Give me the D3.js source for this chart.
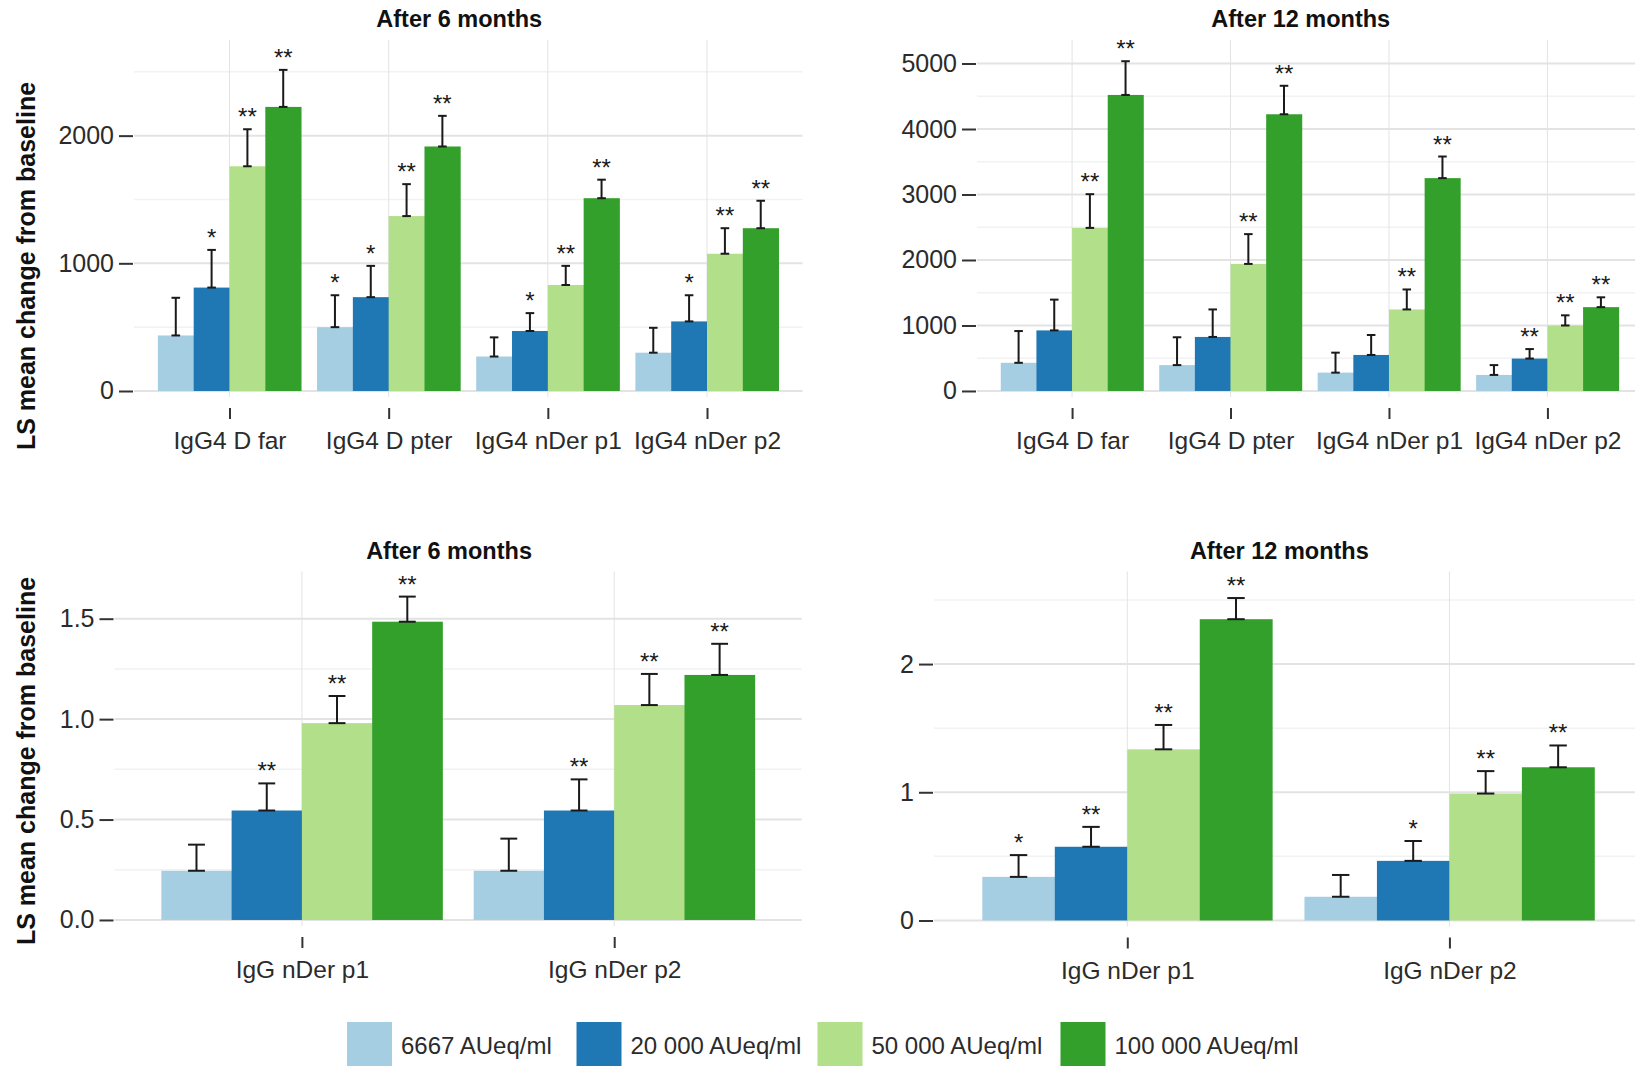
<!DOCTYPE html>
<html>
<head>
<meta charset="utf-8">
<script src="https://cdn.jsdelivr.net/npm/d3@7"></script>
<style>
  html, body { margin: 0; padding: 0; background: #fff; }
  svg { display: block; font-family: "Liberation Sans", Arial, Helvetica, sans-serif; }
</style>
</head>
<body>
<svg id="chart" width="1635" height="1066"></svg>
<script>
// ---------------- DATA ----------------
const doses = ["6667 AUeq/ml", "20 000 AUeq/ml", "50 000 AUeq/ml", "100 000 AUeq/ml"];
const doseColors = ["#a6cee3", "#1f78b4", "#b2df8a", "#33a02c"];

const igg4Categories = ["IgG4 D far", "IgG4 D pter", "IgG4 nDer p1", "IgG4 nDer p2"];
const iggCategories = ["IgG nDer p1", "IgG nDer p2"];

// IgG4, after 6 months: LS mean change and upper error limit, per category x dose
const igg4Month6Mean = [
  [435, 810, 1760, 2225],
  [500, 735, 1370, 1915],
  [270, 470, 830, 1510],
  [300, 545, 1075, 1275]
];
const igg4Month6Upper = [
  [730, 1105, 2050, 2515],
  [750, 980, 1620, 2155],
  [420, 610, 980, 1655],
  [495, 750, 1275, 1490]
];
const igg4Month6Sig = [
  ["", "*", "**", "**"],
  ["*", "*", "**", "**"],
  ["", "*", "**", "**"],
  ["", "*", "**", "**"]
];

// IgG4, after 12 months
const igg4Month12Mean = [
  [430, 925, 2490, 4520],
  [395, 825, 1940, 4225],
  [280, 550, 1245, 3250],
  [245, 495, 1000, 1280]
];
const igg4Month12Upper = [
  [915, 1395, 3005, 5035],
  [820, 1245, 2395, 4660],
  [585, 855, 1550, 3580],
  [395, 640, 1155, 1430]
];
const igg4Month12Sig = [
  ["", "", "**", "**"],
  ["", "", "**", "**"],
  ["", "", "**", "**"],
  ["", "**", "**", "**"]
];

// IgG, after 6 months
const iggMonth6Mean = [
  [0.245, 0.545, 0.98, 1.485],
  [0.245, 0.545, 1.07, 1.22]
];
const iggMonth6Upper = [
  [0.375, 0.68, 1.115, 1.61],
  [0.405, 0.70, 1.225, 1.375]
];
const iggMonth6Sig = [
  ["", "**", "**", "**"],
  ["", "**", "**", "**"]
];

// IgG, after 12 months
const iggMonth12Mean = [
  [0.34, 0.575, 1.335, 2.35],
  [0.185, 0.465, 0.99, 1.195]
];
const iggMonth12Upper = [
  [0.51, 0.73, 1.525, 2.515],
  [0.355, 0.62, 1.165, 1.365]
];
const iggMonth12Sig = [
  ["*", "**", "**", "**"],
  ["", "*", "**", "**"]
];

// tick values
const igg4Month6Ticks = [0, 1000, 2000];
const igg4Month6Minor = [500, 1500, 2500];
const igg4Month12Ticks = [0, 1000, 2000, 3000, 4000, 5000];
const igg4Month12Minor = [500, 1500, 2500, 3500, 4500];
const iggMonth6Ticks = [0, 0.5, 1.0, 1.5];
const iggMonth6TickLabels = ["0.0", "0.5", "1.0", "1.5"];
const iggMonth6Minor = [0.25, 0.75, 1.25];
const iggMonth12Ticks = [0, 1, 2];
const iggMonth12Minor = [0.5, 1.5, 2.5];

const titles = ["After 6 months", "After 12 months"];
const yAxisTitle = "LS mean change from baseline";

// ---------------- DRAWING ----------------
const svg = d3.select("#chart");
const TXT = "#2b2b2b";

function drawPanel(cfg) {
  const g = svg.append("g");
  const x = d3.scalePoint().domain(cfg.categories).range([cfg.x0, cfg.x1]).padding(0.6);
  const step = x.step();
  const xd = d3.scaleBand().domain(doses).range([-0.45 * step, 0.45 * step]).padding(0);
  const y = d3.scaleLinear().domain(cfg.domain).range([cfg.y1, cfg.y0]);

  // minor gridlines
  g.append("g").selectAll("line").data(cfg.minor.filter(v => v >= cfg.domain[0] && v <= cfg.domain[1]))
    .join("line")
    .attr("x1", cfg.x0).attr("x2", cfg.x1)
    .attr("y1", d => y(d)).attr("y2", d => y(d))
    .attr("stroke", "#f2f2f2").attr("stroke-width", 1.5);
  // major gridlines
  g.append("g").selectAll("line").data(cfg.ticks)
    .join("line")
    .attr("x1", cfg.x0).attr("x2", cfg.x1)
    .attr("y1", d => y(d)).attr("y2", d => y(d))
    .attr("stroke", "#e3e3e3").attr("stroke-width", 2);
  // vertical gridlines
  g.append("g").selectAll("line").data(cfg.categories)
    .join("line")
    .attr("x1", d => x(d)).attr("x2", d => x(d))
    .attr("y1", cfg.y0).attr("y2", cfg.y1)
    .attr("stroke", "#e3e3e3").attr("stroke-width", 1);

  // flatten data
  const rows = [];
  cfg.categories.forEach((c, i) => {
    doses.forEach((d, j) => {
      rows.push({ cat: c, dose: d, j, mean: cfg.mean[i][j], upper: cfg.upper[i][j], sig: cfg.sig[i][j] });
    });
  });
  const bw = xd.bandwidth();

  // bars
  g.append("g").selectAll("rect").data(rows).join("rect")
    .attr("x", d => x(d.cat) + xd(d.dose))
    .attr("width", bw + 0.4)
    .attr("y", d => y(d.mean))
    .attr("height", d => y(0) - y(d.mean))
    .attr("fill", d => doseColors[d.j]);

  // error bars
  const cap = bw * 0.24;
  const eb = g.append("g").attr("stroke", "#1a1a1a").attr("stroke-width", 2);
  rows.forEach(d => {
    const cx = x(d.cat) + xd(d.dose) + bw / 2;
    eb.append("line").attr("x1", cx).attr("x2", cx).attr("y1", y(d.mean)).attr("y2", y(d.upper));
    eb.append("line").attr("x1", cx - cap / 2).attr("x2", cx + cap / 2).attr("y1", y(d.upper)).attr("y2", y(d.upper));
    eb.append("line").attr("x1", cx - cap / 2).attr("x2", cx + cap / 2).attr("y1", y(d.mean)).attr("y2", y(d.mean));
  });

  // significance stars
  g.append("g").selectAll("text").data(rows.filter(d => d.sig)).join("text")
    .attr("x", d => x(d.cat) + xd(d.dose) + bw / 2)
    .attr("y", d => y(d.upper) - 4)
    .attr("text-anchor", "middle")
    .attr("font-size", 24)
    .attr("fill", "#1a1a1a")
    .text(d => d.sig);

  // y axis
  const ya = g.append("g").attr("transform", `translate(${cfg.x0 - 1},0)`)
    .call(d3.axisLeft(y).tickValues(cfg.ticks).tickSize(14).tickPadding(5)
      .tickFormat((d, i) => cfg.tickLabels ? cfg.tickLabels[i] : d3.format("d")(d)));
  ya.select(".domain").remove();
  ya.selectAll(".tick line").attr("stroke", "#333").attr("stroke-width", 2);
  ya.selectAll(".tick text").attr("font-size", 25).attr("fill", TXT)
    .attr("font-family", "'Liberation Sans', Arial, sans-serif");

  // x axis (offset below the panel)
  const xa = g.append("g").attr("transform", `translate(0,${cfg.y1 + 11})`)
    .call(d3.axisBottom(x).tickSize(11).tickPadding(13));
  xa.select(".domain").remove();
  xa.selectAll(".tick line").attr("stroke", "#333").attr("stroke-width", 2);
  xa.selectAll(".tick text").attr("font-size", 24.5).attr("fill", TXT)
    .attr("font-family", "'Liberation Sans', Arial, sans-serif");

  // title
  g.append("text")
    .attr("x", (cfg.x0 + cfg.x1) / 2 - 9)
    .attr("y", cfg.y0 - 13)
    .attr("text-anchor", "middle")
    .attr("font-size", 23.5)
    .attr("font-weight", "bold")
    .attr("fill", "#111")
    .text(cfg.title);

  if (cfg.yTitleY) {
    g.append("text")
      .attr("transform", `translate(35,${cfg.yTitleY}) rotate(-90)`)
      .attr("text-anchor", "middle")
      .attr("font-size", 25)
      .attr("font-weight", "bold")
      .attr("fill", "#111")
      .text(yAxisTitle);
  }
}

drawPanel({
  x0: 134, x1: 802.5, y0: 40, y1: 397, domain: [-47, 2749],
  categories: igg4Categories, mean: igg4Month6Mean, upper: igg4Month6Upper, sig: igg4Month6Sig,
  ticks: igg4Month6Ticks, minor: igg4Month6Minor, title: titles[0], yTitleY: 266
});
drawPanel({
  x0: 977, x1: 1642.5, y0: 40, y1: 397, domain: [-92, 5359],
  categories: igg4Categories, mean: igg4Month12Mean, upper: igg4Month12Upper, sig: igg4Month12Sig,
  ticks: igg4Month12Ticks, minor: igg4Month12Minor, title: titles[1]
});
drawPanel({
  x0: 114.5, x1: 801.6, y0: 571.5, y1: 926, domain: [-0.03, 1.735],
  categories: iggCategories, mean: iggMonth6Mean, upper: iggMonth6Upper, sig: iggMonth6Sig,
  ticks: iggMonth6Ticks, tickLabels: iggMonth6TickLabels, minor: iggMonth6Minor, title: titles[0], yTitleY: 761
});
drawPanel({
  x0: 934, x1: 1642.7, y0: 571.5, y1: 926.5, domain: [-0.047, 2.722],
  categories: iggCategories, mean: iggMonth12Mean, upper: iggMonth12Upper, sig: iggMonth12Sig,
  ticks: iggMonth12Ticks, minor: iggMonth12Minor, title: titles[1]
});

// legend
const legendX = [347, 576.5, 817.5, 1060.5];
const lg = svg.append("g");
doses.forEach((d, i) => {
  lg.append("rect").attr("x", legendX[i]).attr("y", 1022).attr("width", 45).attr("height", 46)
    .attr("fill", doseColors[i]);
  lg.append("text").attr("x", legendX[i] + 54).attr("y", 1054)
    .attr("font-size", 24).attr("fill", TXT).text(d);
});
</script>
</body>
</html>
